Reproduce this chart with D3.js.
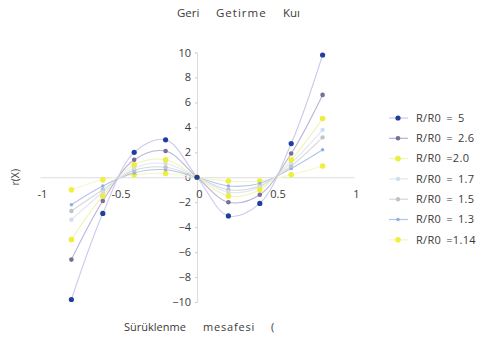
<!DOCTYPE html>
<html>
<head>
<meta charset="utf-8">
<script src="https://cdn.jsdelivr.net/npm/d3@7"></script>
<style>
  body { margin: 0; background: #fff; }
  text { font-family: "Open Sans", sans-serif; fill: #3a3a3a; }
</style>
</head>
<body>
<div id="chart"></div>
<script>
var xs = [-0.8, -0.6, -0.4, -0.2, 0, 0.2, 0.4, 0.6, 0.8];
var seriesNames = ["R/R0 = 5", "R/R0 = 2.6", "R/R0 =2.0", "R/R0 = 1.7", "R/R0 = 1.5", "R/R0 = 1.3", "R/R0 =1.14"];
var r5   = [-9.8, -2.9, 2.0, 3.0, 0, -3.1, -2.1, 2.7, 9.8];
var r26  = [-6.6, -1.9, 1.4, 2.1, 0, -2.0, -1.4, 1.9, 6.6];
var r20  = [-5.0, -1.5, 1.0, 1.4, 0, -1.5, -1.0, 1.4, 4.7];
var r17  = [-3.4, -1.2, 0.75, 1.1, 0, -1.2, -0.8, 1.15, 3.8];
var r15  = [-2.7, -1.0, 0.55, 0.8, 0, -1.0, -0.7, 0.9, 3.2];
var r13  = [-2.2, -0.7, 0.35, 0.6, 0, -0.7, -0.5, 0.7, 2.2];
var r114 = [-1.0, -0.2, 0.2, 0.3, 0, -0.3, -0.3, 0.2, 0.9];
var xTicks = [-1, -0.5, 0, 0.5, 1];
var yTicks = [-10, -8, -6, -4, -2, 0, 2, 4, 6, 8, 10];

var allSeries = [r5, r26, r20, r17, r15, r13, r114];
var markerCol = ["#1f3f9f", "#7a6e96", "#eded3c", "#cfdcf2", "#c2c2c6", "#8fb0e0", "#f0f03a"];
var lineCol   = ["#cacaee", "#bab2d6", "#f3f3b8", "#dfe7f7", "#d8d8dc", "#b0c6ec", "#f6f6cc"];
var markerR   = [2.6, 2.3, 2.8, 2.2, 2.2, 1.8, 2.8];

var width = 485, height = 338;

var svg = d3.select("#chart").append("svg")
    .attr("width", width).attr("height", height);

var x = d3.scaleLinear().domain([-1, 1]).range([40, 354]),
    y = d3.scaleLinear().domain([-10, 10]).range([302, 52.5]);

// title, words spread out like the original
var title = svg.append("text").attr("y", 17).style("font-size", "11.5px");
title.append("tspan").attr("x", 177).text("Geri");
title.append("tspan").attr("x", 216).style("letter-spacing", "1px").text("Getirme");
title.append("tspan").attr("x", 283).text("Kuı");

// y axis
var gy = svg.append("g")
  .attr("transform", "translate(" + x(0) + ",0)")
  .call(d3.axisLeft(y).tickValues(yTicks).tickSize(2).tickPadding(4));
gy.select(".domain").attr("stroke", "#ddd");
gy.selectAll(".tick line").attr("stroke", "#ccc");
gy.selectAll(".tick text").style("font-size", "11px").attr("fill", "#3a3a3a");

// x axis
var gx = svg.append("g")
  .attr("transform", "translate(0," + y(0) + ")")
  .call(d3.axisBottom(x).tickValues(xTicks).tickSize(0).tickPadding(13)
        .tickFormat(function(d) { return d; }));
gx.select(".domain").attr("stroke", "#ddd");
gx.selectAll(".tick text").style("font-size", "11px").attr("fill", "#3a3a3a").attr("dx", 2);

// axis titles
svg.append("text")
  .attr("transform", "translate(19," + y(0) + ") rotate(-90)")
  .attr("text-anchor", "middle")
  .style("font-size", "10.5px")
  .text("r(X)");

var xt = svg.append("text").attr("y", 331).style("font-size", "11px");
xt.append("tspan").attr("x", 124).text("Sürüklenme");
xt.append("tspan").attr("x", 203).style("letter-spacing", "0.8px").text("mesafesi");
xt.append("tspan").attr("x", 271).text("(");

var line = d3.line()
    .x(function(d, i) { return x(xs[i]); })
    .y(function(d) { return y(d); })
    .curve(d3.curveCatmullRom.alpha(0.5));

// lines first, smallest series on top
for (var s = allSeries.length - 1; s >= 0; s--) {
  svg.append("path")
    .datum(allSeries[s])
    .attr("fill", "none")
    .attr("stroke", lineCol[s])
    .attr("stroke-width", 1.1)
    .attr("d", line);
}
for (var s = allSeries.length - 1; s >= 0; s--) {
  svg.append("g").selectAll("circle")
    .data(allSeries[s])
    .enter().append("circle")
      .attr("cx", function(d, i) { return x(xs[i]); })
      .attr("cy", function(d) { return y(d); })
      .attr("r", markerR[s])
      .attr("fill", markerCol[s]);
}

// legend
var legend = svg.append("g").attr("transform", "translate(0,118)");
seriesNames.forEach(function(name, i) {
  var row = legend.append("g").attr("transform", "translate(0," + (i * 20.3) + ")");
  row.append("line")
    .attr("x1", 389).attr("x2", 408)
    .attr("stroke", lineCol[i]).attr("stroke-width", 1.2);
  row.append("circle")
    .attr("cx", 398).attr("r", markerR[i]).attr("fill", markerCol[i]);
  row.append("text")
    .attr("x", 416).attr("dy", "0.35em")
    .style("font-size", "11px")
    .style("word-spacing", "2px")
    .style("letter-spacing", "0.3px")
    .text(name);
});
</script>
</body>
</html>
